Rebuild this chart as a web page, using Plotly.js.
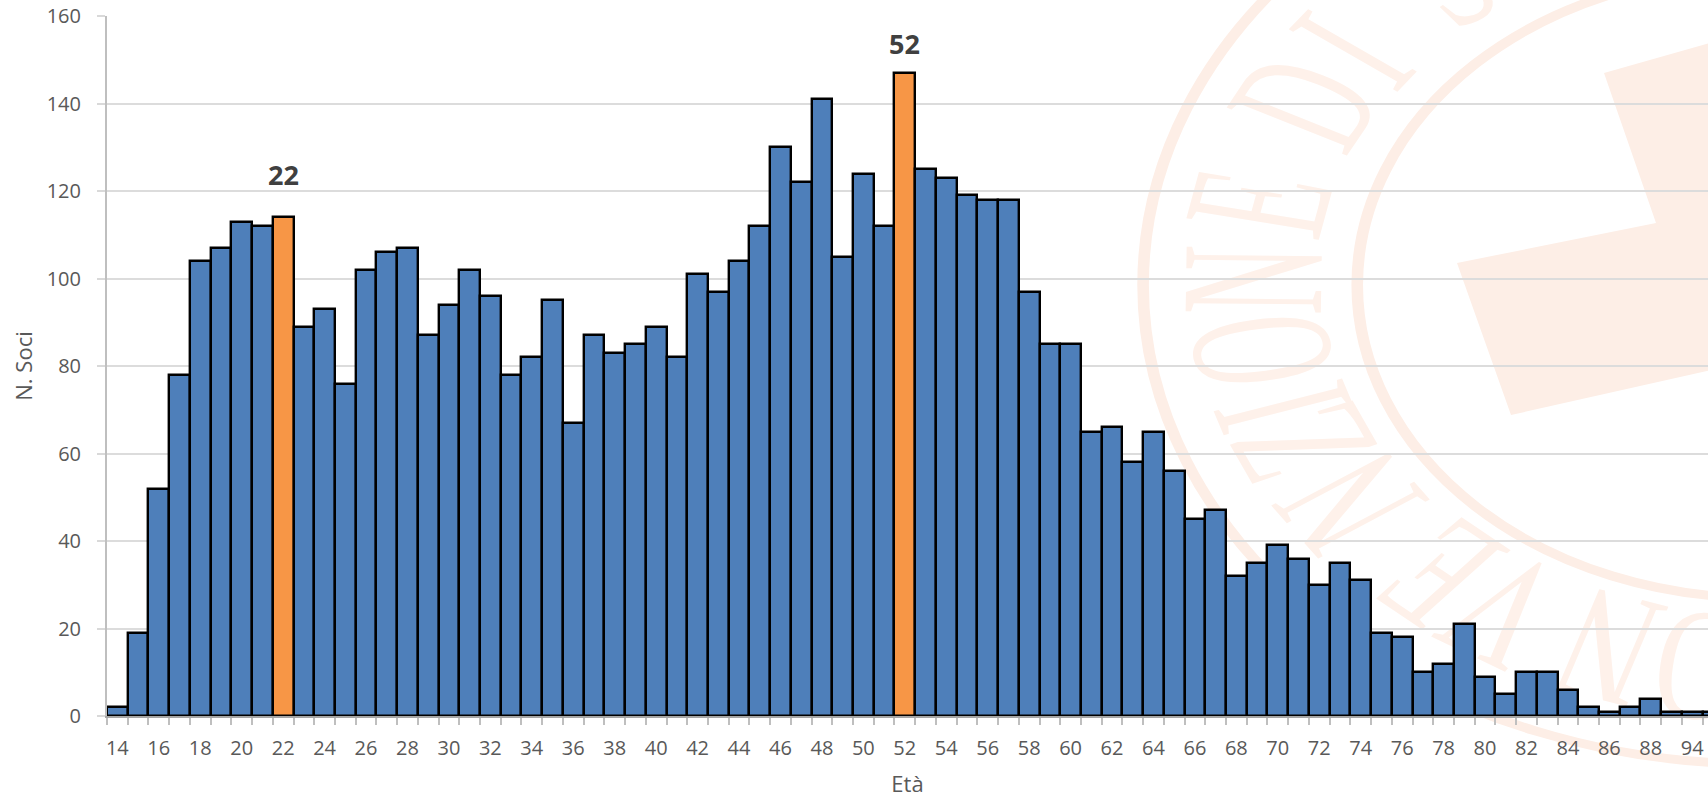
<!DOCTYPE html>
<html lang="it">
<head>
<meta charset="utf-8">
<title>N. Soci per età</title>
<script src="https://cdn.plot.ly/plotly-3.0.1.min.js"></script>
<style>
html,body{margin:0;padding:0;background:#fff;width:1708px;height:798px;overflow:hidden}
#seal{position:absolute;left:0;top:0;width:1708px;height:798px}
#chart{position:absolute;left:0;top:0;width:1708px;height:798px}
</style>
</head>
<body>
<svg id="seal" xmlns="http://www.w3.org/2000/svg" viewBox="0 0 1708 798"></svg>
<div id="chart"></div>
<script>
const ages = ['14','15','16','17','18','19','20','21','22','23','24','25','26','27','28','29','30','31','32','33','34','35','36','37','38','39','40','41','42','43','44','45','46','47','48','49','50','51','52','53','54','55','56','57','58','59','60','61','62','63','64','65','66','67','68','69','70','71','72','73','74','75','76','77','78','79','80','81','82','83','84','85','86','87','88','90','94','95'];
const members = [2,19,52,78,104,107,113,112,114,89,93,76,102,106,107,87,94,102,96,78,82,95,67,87,83,85,89,82,101,97,104,112,130,122,141,105,124,112,147,125,123,119,118,118,97,85,85,65,66,58,65,56,45,47,32,35,39,36,30,35,31,19,18,10,12,21,9,5,10,10,6,2,1,2,4,1,1,1];
const highlightedAges = ['22','52'];
const highlightLabelHeights = [123.7,153.8];
const shownAgeLabels = ['14','16','18','20','22','24','26','28','30','32','34','36','38','40','42','44','46','48','50','52','54','56','58','60','62','64','66','68','70','72','74','76','78','80','82','84','86','88','94'];
const yTicks = [0,20,40,60,80,100,120,140,160];

const BLUE = '#4e7fba', ORANGE = '#f79646', INK = '#595959', FONT = '"Open Sans", sans-serif';

const data = [{
  type: 'bar',
  x: ages,
  y: members,
  marker: {
    color: ages.map(a => highlightedAges.includes(a) ? ORANGE : BLUE),
    line: {color: '#000', width: 2.4}
  },
  hoverinfo: 'x+y'
}];

const layout = {
  width: 1708, height: 798,
  margin: {l: 107, r: 0, t: 16, b: 82, pad: 0},
  paper_bgcolor: 'rgba(0,0,0,0)',
  plot_bgcolor: 'rgba(0,0,0,0)',
  bargap: 0,
  showlegend: false,
  font: {family: FONT, color: INK, size: 20},
  xaxis: {
    type: 'category',
    categoryorder: 'array',
    categoryarray: ages,
    range: [-0.5, 76.76],
    tickmode: 'array',
    tickvals: ages,
    ticktext: ages.map(a => shownAgeLabels.includes(a) ? a : ''),
    tickson: 'boundaries',
    ticks: 'outside', ticklen: 7, tickwidth: 2, tickcolor: '#bfbfbf',
    tickangle: 0,
    ticklabelstandoff: 13,
    showline: true, linecolor: '#a6a6a6', linewidth: 2,
    showgrid: false, zeroline: false,
    tickfont: {family: FONT, size: 20, color: INK},
    title: {text: 'Età', font: {family: FONT, size: 22, color: INK}, standoff: 18}
  },
  yaxis: {
    range: [0, 160],
    tickmode: 'array',
    tickvals: yTicks,
    ticks: 'outside', ticklen: 8, tickwidth: 2, tickcolor: '#d9d9d9',
    ticklabelstandoff: 12,
    showline: true, linecolor: '#bfbfbf', linewidth: 2,
    showgrid: true, gridcolor: '#dcdcdc', gridwidth: 2,
    zeroline: false,
    tickfont: {family: FONT, size: 20, color: INK},
    title: {text: 'N. Soci', font: {family: FONT, size: 22, color: INK}, standoff: 8}
  },
  annotations: highlightedAges.map((a, i) => ({
    x: ages.indexOf(a), y: highlightLabelHeights[i], xref: 'x', yref: 'y',
    text: '<b>' + a + '</b>', showarrow: false, yanchor: 'middle',
    font: {family: FONT, size: 27, color: '#404040'}
  }))
};

Plotly.newPlot('chart', data, layout, {displayModeBar: false});

// Faint seal behind the chart: stretched horizontally about its centre.
const sealLetters = [['O',1700,667],['N',1608,647],['V',1503,610],['E',1440,573],['N',1350,503],['Z',1302,443],['I',1282,407],['O',1261,350],['N',1253,280],['E',1259,203],['D',1305,103],['I',1352,50],['S',1440,-25]];
(function drawSeal(){
  const NS = 'http://www.w3.org/2000/svg', TINT = '#fdeee6';
  const CX = 1761, CY = 285, STRETCH = 1.29;
  const svg = document.getElementById('seal');
  const el = (n, attrs, parent) => {
    const e = document.createElementNS(NS, n);
    Object.keys(attrs).forEach(k => e.setAttribute(k, attrs[k]));
    (parent || svg).appendChild(e);
    return e;
  };
  el('polygon', {points: '1604,73 1656,223 1457,263 1511,415 1720,368 1720,40', fill: TINT});
  const g = el('g', {transform: `translate(${CX},${CY}) scale(${STRETCH},1)`});
  [479, 313].forEach(r => el('circle', {cx: 0, cy: 0, r, fill: 'none', stroke: TINT, 'stroke-width': 9}, g));
  sealLetters.forEach(([ch, px, py]) => {
    const lx = (px - CX) / STRETCH, ly = py - CY;
    const theta = Math.atan2(ly, lx) * 180 / Math.PI + 90;
    const t = el('text', {
      transform: `translate(${lx},${ly}) rotate(${theta}) scale(0.6,1)`,
      'text-anchor': 'middle', y: 53,
      'font-family': '"Liberation Serif", serif', 'font-size': 160, fill: '#fef1ea'
    }, g);
    t.textContent = ch;
  });
})();
</script>
</body>
</html>
